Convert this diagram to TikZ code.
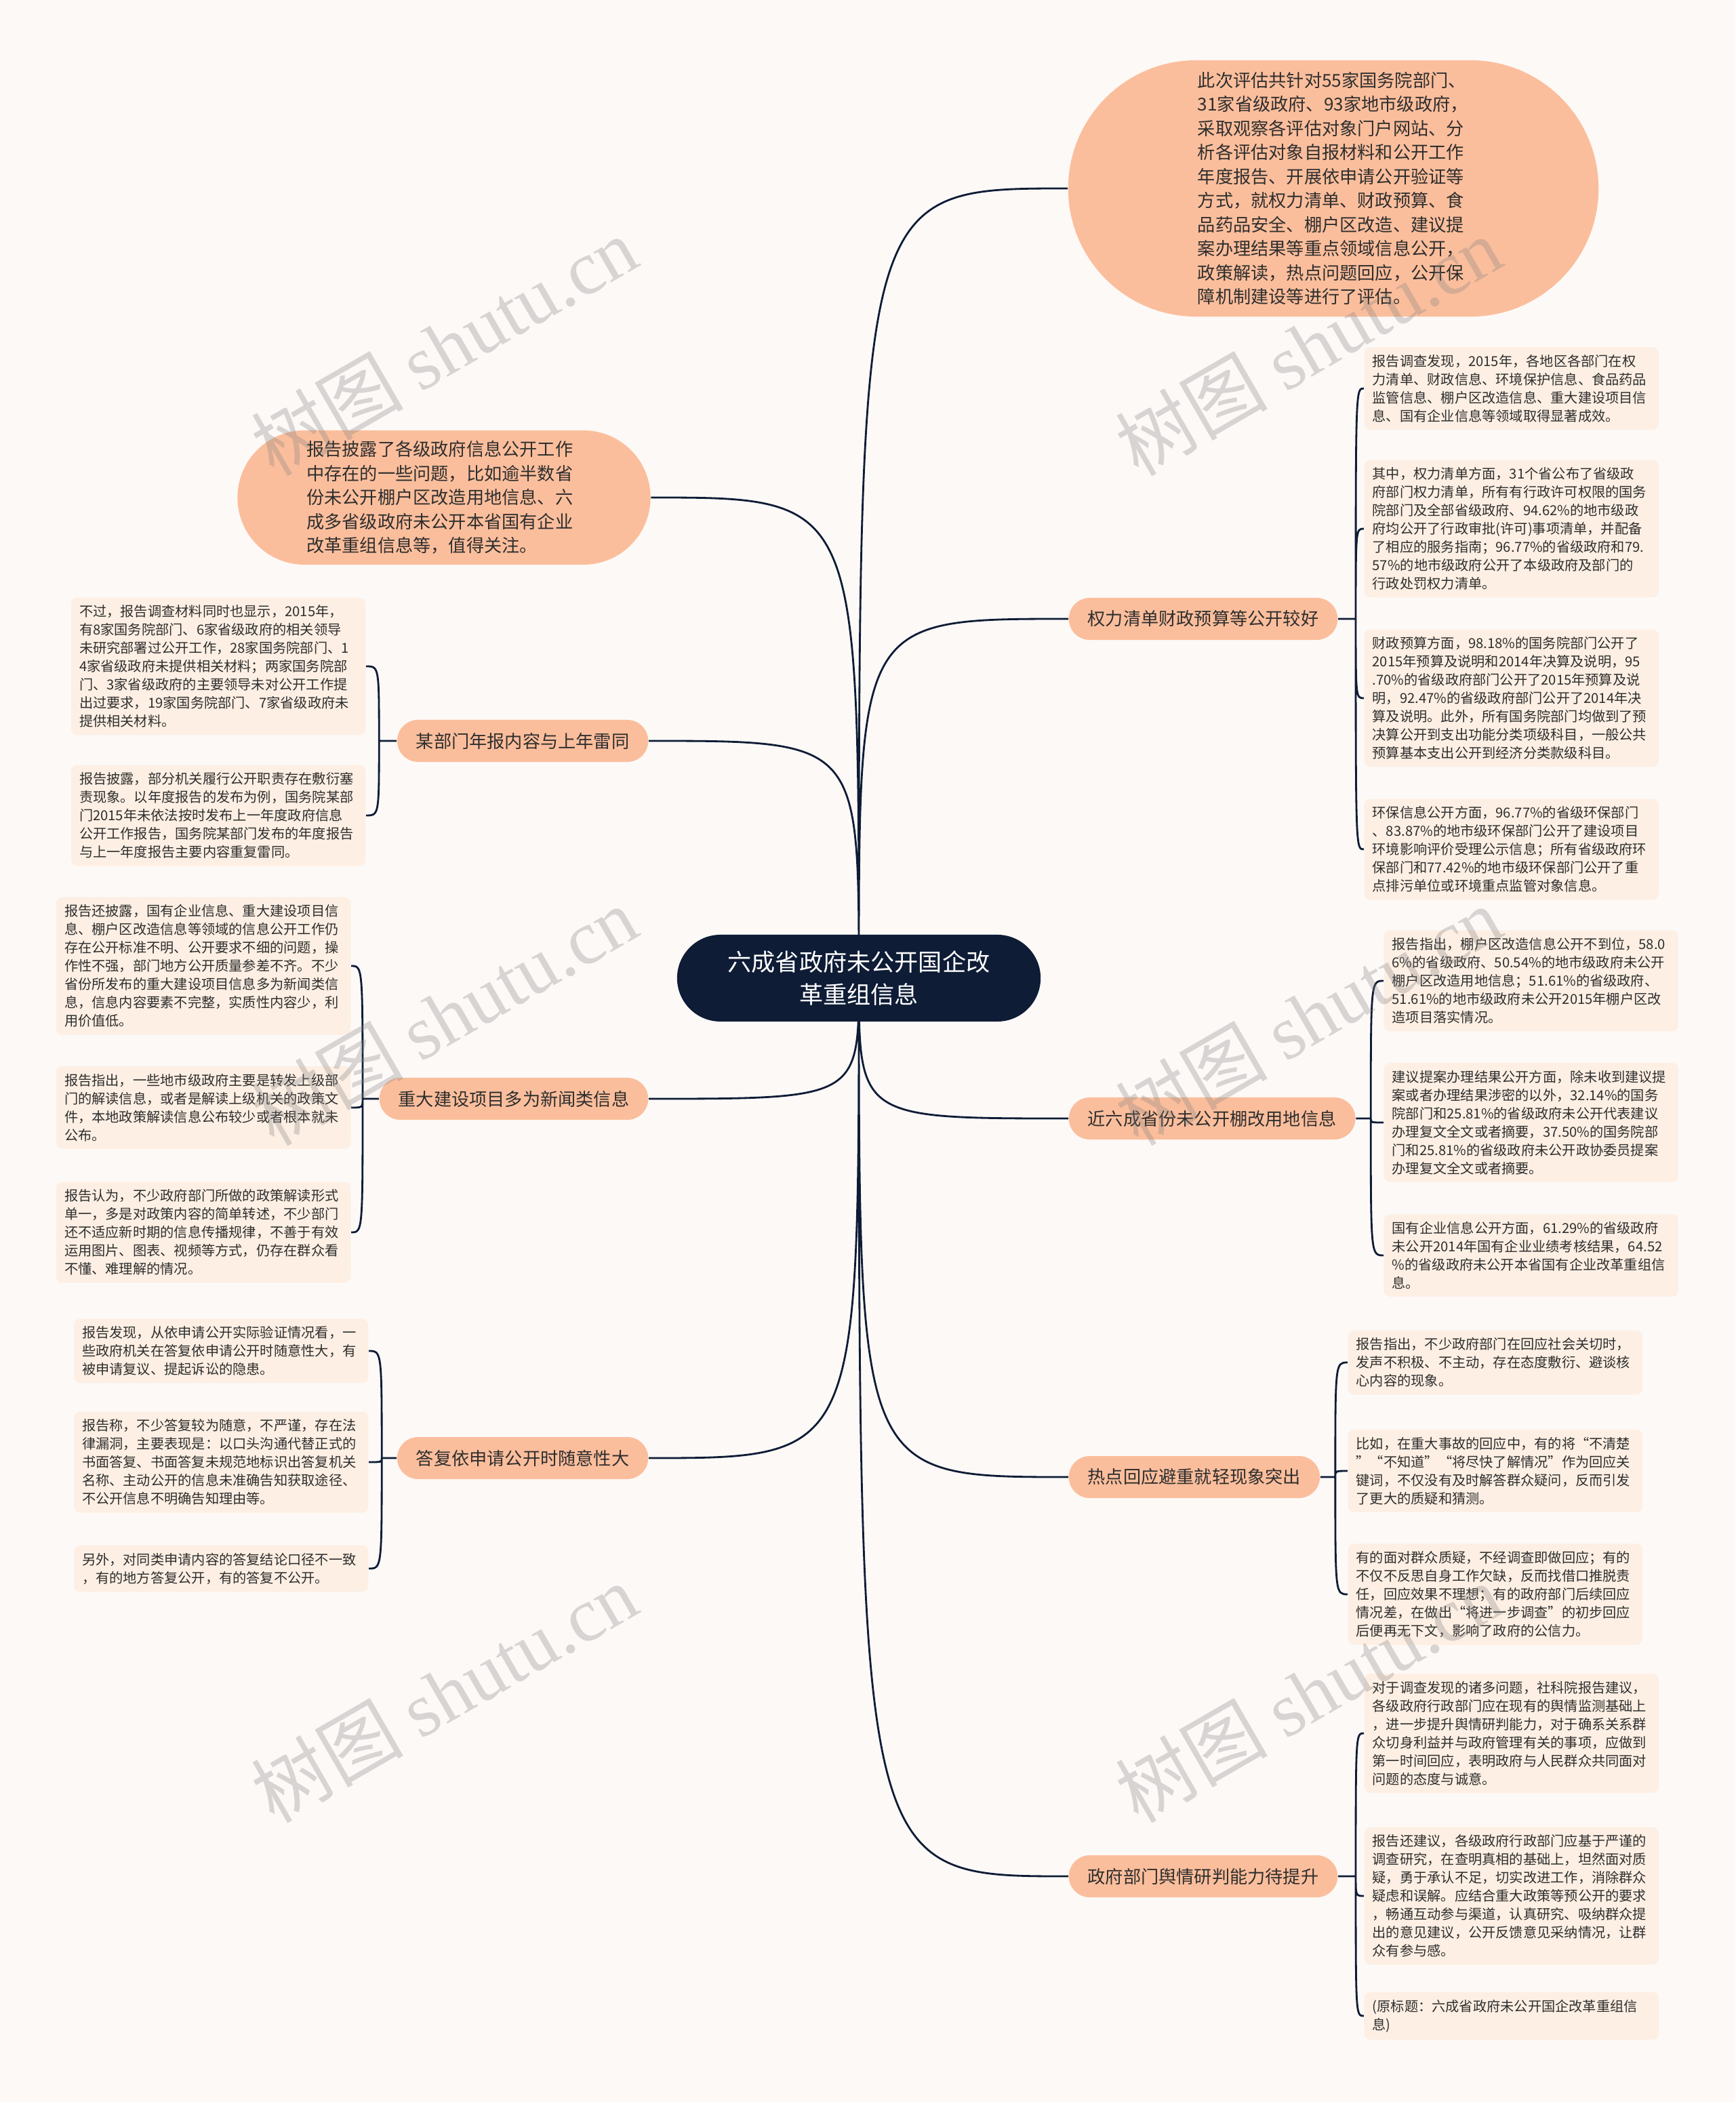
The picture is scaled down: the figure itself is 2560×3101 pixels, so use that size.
\documentclass[tikz,border=0pt]{standalone}
\usepackage{fontspec}
\setmainfont{Noto Sans CJK SC}
\newfontfamily\wmfont{Liberation Serif}
\usetikzlibrary{backgrounds}

\definecolor{bgcol}{HTML}{FDF9F7}
\definecolor{navy}{HTML}{0E1C36}
\definecolor{salmon}{HTML}{FBBE9C}
\definecolor{peach}{HTML}{FDEFE3}
\definecolor{ink}{HTML}{2E2E2E}

\begin{document}
\begin{tikzpicture}[
		x = 0.01cm, y = -0.01cm, % one unit = one pixel, y down
		link/.style = {draw=navy, line width=0.8pt}, % connector style
		hub/.style = {fill=navy, text=white, align=center,
			font=\fontsize{10}{13.4}\selectfont,
			minimum width=5.36cm, minimum height=1.28cm, rounded corners=0.64cm},
		topic/.style = {fill=salmon, text=ink, rounded corners=0.31cm,
			font=\fontsize{7.45}{10.1}\selectfont,
			minimum height=0.62cm, inner xsep=0.28cm},
		bubble/.style = {fill=salmon, text=ink, align=left,
			font=\fontsize{7.45}{10.1}\selectfont},
		leaf/.style = {fill=peach, text=ink, rounded corners=0.09cm, align=left,
			font=\fontsize{5.75}{7.68}\selectfont, text width=4.1cm,
			inner xsep=0.12cm, inner ysep=0.11cm},
		stamp/.style = {text=gray, opacity=0.3, rotate=30,
			font=\fontsize{32}{32}\selectfont}
		]
		
		\useasboundingbox (0,0) rectangle (2560,3101);
		
		\node[hub] (ctr) at (1267,1443) {六成省政府未公开国企改\\革重组信息};
		
		% right side
		\node[bubble, minimum width=7.82cm, minimum height=3.78cm, rounded corners=1.89cm, text width=4.0cm] (note1) at (1967,278) {此次评估共针对55家国务院部门、\\31家省级政府、93家地市级政府，\\采取观察各评估对象门户网站、分\\析各评估对象自报材料和公开工作\\年度报告、开展依申请公开验证等\\方式，就权力清单、财政预算、食\\品药品安全、棚户区改造、建议提\\案办理结果等重点领域信息公开，\\政策解读，热点问题回应，公开保\\障机制建设等进行了评估。};
		\node[topic, anchor=west] (power) at (1576,913) {权力清单财政预算等公开较好};
		\node[topic, anchor=west] (shed) at (1576,1650) {近六成省份未公开棚改用地信息};
		\node[topic, anchor=west] (hot) at (1576,2179) {热点回应避重就轻现象突出};
		\node[topic, anchor=west] (opinion) at (1576,2768) {政府部门舆情研判能力待提升};
		
		\node[leaf, anchor=west] (power1) at (2012,573) {报告调查发现，2015年，各地区各部门在权\\力清单、财政信息、环境保护信息、食品药品\\监管信息、棚户区改造信息、重大建设项目信\\息、国有企业信息等领域取得显著成效。};
		\node[leaf, anchor=west] (power2) at (2012,780) {其中，权力清单方面，31个省公布了省级政\\府部门权力清单，所有有行政许可权限的国务\\院部门及全部省级政府、94.62\%的地市级政\\府均公开了行政审批(许可)事项清单，并配备\\了相应的服务指南；96.77\%的省级政府和79.\\57\%的地市级政府公开了本级政府及部门的\\行政处罚权力清单。};
		\node[leaf, anchor=west] (power3) at (2012,1030) {财政预算方面，98.18\%的国务院部门公开了\\2015年预算及说明和2014年决算及说明，95\\.70\%的省级政府部门公开了2015年预算及说\\明，92.47\%的省级政府部门公开了2014年决\\算及说明。此外，所有国务院部门均做到了预\\决算公开到支出功能分类项级科目，一般公共\\预算基本支出公开到经济分类款级科目。};
		\node[leaf, anchor=west] (power4) at (2012,1253) {环保信息公开方面，96.77\%的省级环保部门\\、83.87\%的地市级环保部门公开了建设项目\\环境影响评价受理公示信息；所有省级政府环\\保部门和77.42\%的地市级环保部门公开了重\\点排污单位或环境重点监管对象信息。};
		
		\node[leaf, anchor=west] (shed1) at (2041,1447) {报告指出，棚户区改造信息公开不到位，58.0\\6\%的省级政府、50.54\%的地市级政府未公开\\棚户区改造用地信息；51.61\%的省级政府、\\51.61\%的地市级政府未公开2015年棚户区改\\造项目落实情况。};
		\node[leaf, anchor=west] (shed2) at (2041,1656) {建议提案办理结果公开方面，除未收到建议提\\案或者办理结果涉密的以外，32.14\%的国务\\院部门和25.81\%的省级政府未公开代表建议\\办理复文全文或者摘要，37.50\%的国务院部\\门和25.81\%的省级政府未公开政协委员提案\\办理复文全文或者摘要。};
		\node[leaf, anchor=west] (shed3) at (2041,1852) {国有企业信息公开方面，61.29\%的省级政府\\未公开2014年国有企业业绩考核结果，64.52\\\%的省级政府未公开本省国有企业改革重组信\\息。};
		
		\node[leaf, anchor=west] (hot1) at (1988,2010) {报告指出，不少政府部门在回应社会关切时，\\发声不积极、不主动，存在态度敷衍、避谈核\\心内容的现象。};
		\node[leaf, anchor=west] (hot2) at (1988,2170) {比如，在重大事故的回应中，有的将“不清楚\\”“不知道”“将尽快了解情况”作为回应关\\键词，不仅没有及时解答群众疑问，反而引发\\了更大的质疑和猜测。};
		\node[leaf, anchor=west] (hot3) at (1988,2352) {有的面对群众质疑，不经调查即做回应；有的\\不仅不反思自身工作欠缺，反而找借口推脱责\\任，回应效果不理想；有的政府部门后续回应\\情况差，在做出“将进一步调查”的初步回应\\后便再无下文，影响了政府的公信力。};
		
		\node[leaf, anchor=west] (opinion1) at (2012,2557) {对于调查发现的诸多问题，社科院报告建议，\\各级政府行政部门应在现有的舆情监测基础上\\，进一步提升舆情研判能力，对于确系关系群\\众切身利益并与政府管理有关的事项，应做到\\第一时间回应，表明政府与人民群众共同面对\\问题的态度与诚意。};
		\node[leaf, anchor=west] (opinion2) at (2012,2797) {报告还建议，各级政府行政部门应基于严谨的\\调查研究，在查明真相的基础上，坦然面对质\\疑，勇于承认不足，切实改进工作，消除群众\\疑虑和误解。应结合重大政策等预公开的要求\\，畅通互动参与渠道，认真研究、吸纳群众提\\出的意见建议，公开反馈意见采纳情况，让群\\众有参与感。};
		\node[leaf, anchor=west] (opinion3) at (2012,2974) {(原标题：六成省政府未公开国企改革重组信\\息)};
		
		% left side
		\node[bubble, minimum width=6.09cm, minimum height=1.98cm, rounded corners=0.99cm, text width=4.05cm] (note2) at (655,734) {报告披露了各级政府信息公开工作\\中存在的一些问题，比如逾半数省\\份未公开棚户区改造用地信息、六\\成多省级政府未公开本省国有企业\\改革重组信息等，值得关注。};
		\node[topic, anchor=east] (annual) at (957,1093) {某部门年报内容与上年雷同};
		\node[topic, anchor=east] (project) at (957,1621) {重大建设项目多为新闻类信息};
		\node[topic, anchor=east] (reply) at (957,2151) {答复依申请公开时随意性大};
		
		\node[leaf, anchor=east] (annual1) at (540,983) {不过，报告调查材料同时也显示，2015年，\\有8家国务院部门、6家省级政府的相关领导\\未研究部署过公开工作，28家国务院部门、1\\4家省级政府未提供相关材料；两家国务院部\\门、3家省级政府的主要领导未对公开工作提\\出过要求，19家国务院部门、7家省级政府未\\提供相关材料。};
		\node[leaf, anchor=east] (annual2) at (540,1203) {报告披露，部分机关履行公开职责存在敷衍塞\\责现象。以年度报告的发布为例，国务院某部\\门2015年未依法按时发布上一年度政府信息\\公开工作报告，国务院某部门发布的年度报告\\与上一年度报告主要内容重复雷同。};
		
		\node[leaf, anchor=east] (project1) at (518,1425) {报告还披露，国有企业信息、重大建设项目信\\息、棚户区改造信息等领域的信息公开工作仍\\存在公开标准不明、公开要求不细的问题，操\\作性不强，部门地方公开质量参差不齐。不少\\省份所发布的重大建设项目信息多为新闻类信\\息，信息内容要素不完整，实质性内容少，利\\用价值低。};
		\node[leaf, anchor=east] (project2) at (518,1634) {报告指出，一些地市级政府主要是转发上级部\\门的解读信息，或者是解读上级机关的政策文\\件，本地政策解读信息公布较少或者根本就未\\公布。};
		\node[leaf, anchor=east] (project3) at (518,1818) {报告认为，不少政府部门所做的政策解读形式\\单一，多是对政策内容的简单转述，不少部门\\还不适应新时期的信息传播规律，不善于有效\\运用图片、图表、视频等方式，仍存在群众看\\不懂、难理解的情况。};
		
		\node[leaf, anchor=east] (reply1) at (544,1993) {报告发现，从依申请公开实际验证情况看，一\\些政府机关在答复依申请公开时随意性大，有\\被申请复议、提起诉讼的隐患。};
		\node[leaf, anchor=east] (reply2) at (544,2157) {报告称，不少答复较为随意，不严谨，存在法\\律漏洞，主要表现是：以口头沟通代替正式的\\书面答复、书面答复未规范地标识出答复机关\\名称、主动公开的信息未准确告知获取途径、\\不公开信息不明确告知理由等。};
		\node[leaf, anchor=east] (reply3) at (544,2314) {另外，对同类申请内容的答复结论口径不一致\\，有的地方答复公开，有的答复不公开。};
		
		% bracket junctions
		\path (power.east) ++(26,0) coordinate (jpower);
		\path (shed.east) ++(22,0) coordinate (jshed);
		\path (hot.east) ++(22,0) coordinate (jhot);
		\path (opinion.east) ++(26,0) coordinate (jopinion);
		\path (annual.west) ++(-26,0) coordinate (jannual);
		\path (project.west) ++(-24,0) coordinate (jproject);
		\path (reply.west) ++(-22,0) coordinate (jreply);
		
		\begin{scope}[on background layer]
		\fill[bgcol] (0,0) rectangle (2560,3101);
		
		\draw[link]
		(ctr.center) .. controls (ctr.center |- note1.west) .. (note1.west)
		(ctr.center) .. controls (ctr.center |- power.west) .. (power.west)
		(ctr.center) .. controls (ctr.center |- shed.west) .. (shed.west)
		(ctr.center) .. controls (ctr.center |- hot.west) .. (hot.west)
		(ctr.center) .. controls (ctr.center |- opinion.west) .. (opinion.west)
		(ctr.center) .. controls (ctr.center |- note2.east) .. (note2.east)
		(ctr.center) .. controls (ctr.center |- annual.east) .. (annual.east)
		(ctr.center) .. controls (ctr.center |- project.east) .. (project.east)
		(ctr.center) .. controls (ctr.center |- reply.east) .. (reply.east);
		
		\draw[link] (power.east) -- (jpower)
		(jpower) .. controls (jpower |- power1.west) .. (power1.west)
		(jpower) .. controls (jpower |- power2.west) .. (power2.west)
		(jpower) .. controls (jpower |- power3.west) .. (power3.west)
		(jpower) .. controls (jpower |- power4.west) .. (power4.west);
		\draw[link] (shed.east) -- (jshed)
		(jshed) .. controls (jshed |- shed1.west) .. (shed1.west)
		(jshed) .. controls (jshed |- shed2.west) .. (shed2.west)
		(jshed) .. controls (jshed |- shed3.west) .. (shed3.west);
		\draw[link] (hot.east) -- (jhot)
		(jhot) .. controls (jhot |- hot1.west) .. (hot1.west)
		(jhot) .. controls (jhot |- hot2.west) .. (hot2.west)
		(jhot) .. controls (jhot |- hot3.west) .. (hot3.west);
		\draw[link] (opinion.east) -- (jopinion)
		(jopinion) .. controls (jopinion |- opinion1.west) .. (opinion1.west)
		(jopinion) .. controls (jopinion |- opinion2.west) .. (opinion2.west)
		(jopinion) .. controls (jopinion |- opinion3.west) .. (opinion3.west);
		\draw[link] (annual.west) -- (jannual)
		(jannual) .. controls (jannual |- annual1.east) .. (annual1.east)
		(jannual) .. controls (jannual |- annual2.east) .. (annual2.east);
		\draw[link] (project.west) -- (jproject)
		(jproject) .. controls (jproject |- project1.east) .. (project1.east)
		(jproject) .. controls (jproject |- project2.east) .. (project2.east)
		(jproject) .. controls (jproject |- project3.east) .. (project3.east);
		\draw[link] (reply.west) -- (jreply)
		(jreply) .. controls (jreply |- reply1.east) .. (reply1.east)
		(jreply) .. controls (jreply |- reply2.east) .. (reply2.east)
		(jreply) .. controls (jreply |- reply3.east) .. (reply3.east);
		\end{scope}
		
		% watermark
		\node[stamp] (wm1) at (655,510) {树图 {\wmfont shutu.cn}};
		\node[stamp] (wm2) at (1930,510) {树图 {\wmfont shutu.cn}};
		\node[stamp] (wm3) at (655,1498) {树图 {\wmfont shutu.cn}};
		\node[stamp] (wm4) at (1930,1498) {树图 {\wmfont shutu.cn}};
		\node[stamp] (wm5) at (655,2497) {树图 {\wmfont shutu.cn}};
		\node[stamp] (wm6) at (1930,2497) {树图 {\wmfont shutu.cn}};
	\end{tikzpicture}
\end{document}
